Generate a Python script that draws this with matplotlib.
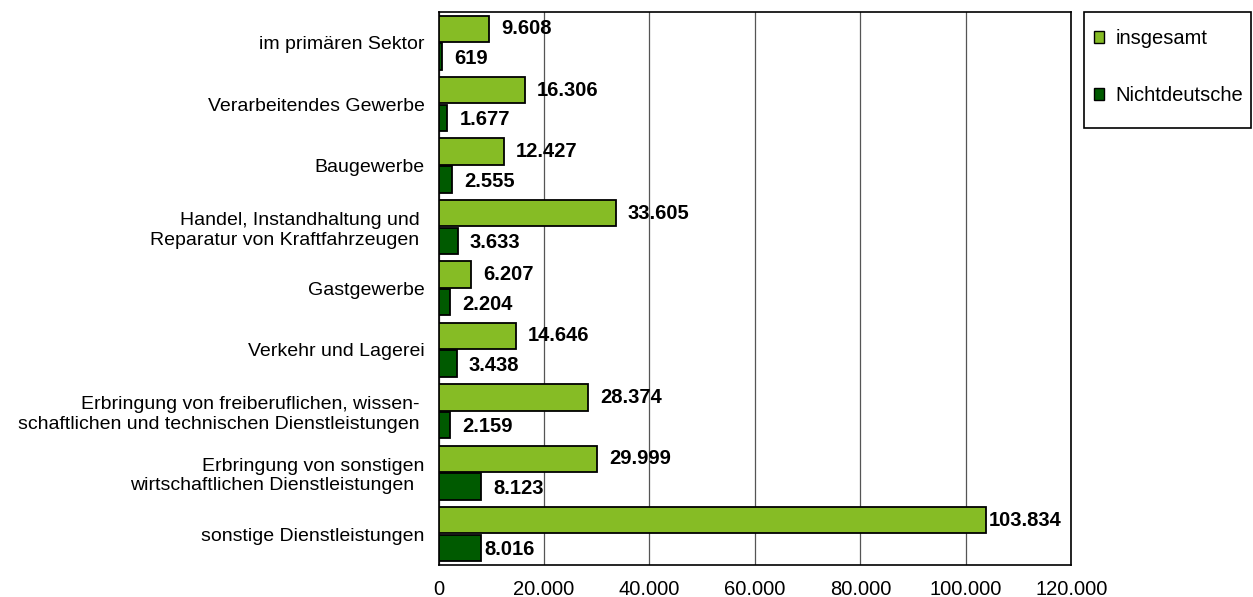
import matplotlib.pyplot as plt
import numpy as np
from matplotlib.patches import Patch, Rectangle

plt.rcParams['font.family'] = ['Liberation Sans', 'DejaVu Sans']

categories = [
    "im primären Sektor",
    "Verarbeitendes Gewerbe",
    "Baugewerbe",
    "Handel, Instandhaltung und \nReparatur von Kraftfahrzeugen ",
    "Gastgewerbe",
    "Verkehr und Lagerei",
    "Erbringung von freiberuflichen, wissen- \nschaftlichen und technischen Dienstleistungen ",
    "Erbringung von sonstigen\nwirtschaftlichen Dienstleistungen  ",
    "sonstige Dienstleistungen",
]
insgesamt = [9608, 16306, 12427, 33605, 6207, 14646, 28374, 29999, 103834]
nichtdeutsche = [619, 1677, 2555, 3633, 2204, 3438, 2159, 8123, 8016]
xticks = [0, 20000, 40000, 60000, 80000, 100000, 120000]

c_light = '#86bc25'
c_dark = '#005a00'


def fmt(v):
    return f"{v:,}".replace(",", ".")


W, H = 1253, 597
fig = plt.figure(figsize=(W / 100, H / 100), dpi=100)
ax = fig.add_axes([0.350, 0.054, 0.505, 0.926])

y = np.arange(len(categories))
h = 0.43
ax.barh(y - h / 2 - 0.01, insgesamt, height=h, color=c_light, edgecolor='black', linewidth=1.3, zorder=3)
ax.barh(y + h / 2 + 0.01, nichtdeutsche, height=h, color=c_dark, edgecolor='black', linewidth=1.3, zorder=3)

for i in range(len(categories)):
    off = 600 if i == len(categories) - 1 else 2300
    ax.text(insgesamt[i] + off, y[i] - h / 2 - 0.01, fmt(insgesamt[i]), va='center', ha='left',
            fontsize=14.5, fontweight='bold', zorder=4)
    ax.text(nichtdeutsche[i] + off, y[i] + h / 2 + 0.04, fmt(nichtdeutsche[i]), va='center', ha='left',
            fontsize=14.5, fontweight='bold', zorder=4)

ax.set_xlim(0, 120000)
ax.set_ylim(len(categories) - 0.5, -0.5)
ax.set_xticks(xticks)
ax.set_xticklabels([fmt(t) for t in xticks], fontsize=14.5)
ax.set_yticks(y)
ax.set_yticklabels(categories, fontsize=14)
ax.tick_params(axis='both', length=0)
ax.tick_params(axis='x', pad=11)
ax.tick_params(axis='y', pad=10)
ax.xaxis.grid(True, color='#555555', linewidth=0.9, zorder=0)
for s in ax.spines.values():
    s.set_color('black')
    s.set_linewidth(1.2)

# legend frame drawn by hand, entries placed inside it
fig.patches.append(Rectangle((1084 / W, 1 - 128 / H), 167 / W, 116 / H, transform=fig.transFigure,
                             facecolor='white', edgecolor='black', linewidth=1.2))
handles = [Patch(facecolor=c_light, edgecolor='black'), Patch(facecolor=c_dark, edgecolor='black')]
fig.legend(handles, ['insgesamt', 'Nichtdeutsche'], loc='upper left', bbox_to_anchor=(1094 / W, 1 - 29 / H),
           fontsize=14.5, frameon=False, handlelength=0.5, handleheight=0.5, handletextpad=0.55,
           labelspacing=1.9, borderpad=0, borderaxespad=0)

fig.savefig('out.png', dpi=100)
